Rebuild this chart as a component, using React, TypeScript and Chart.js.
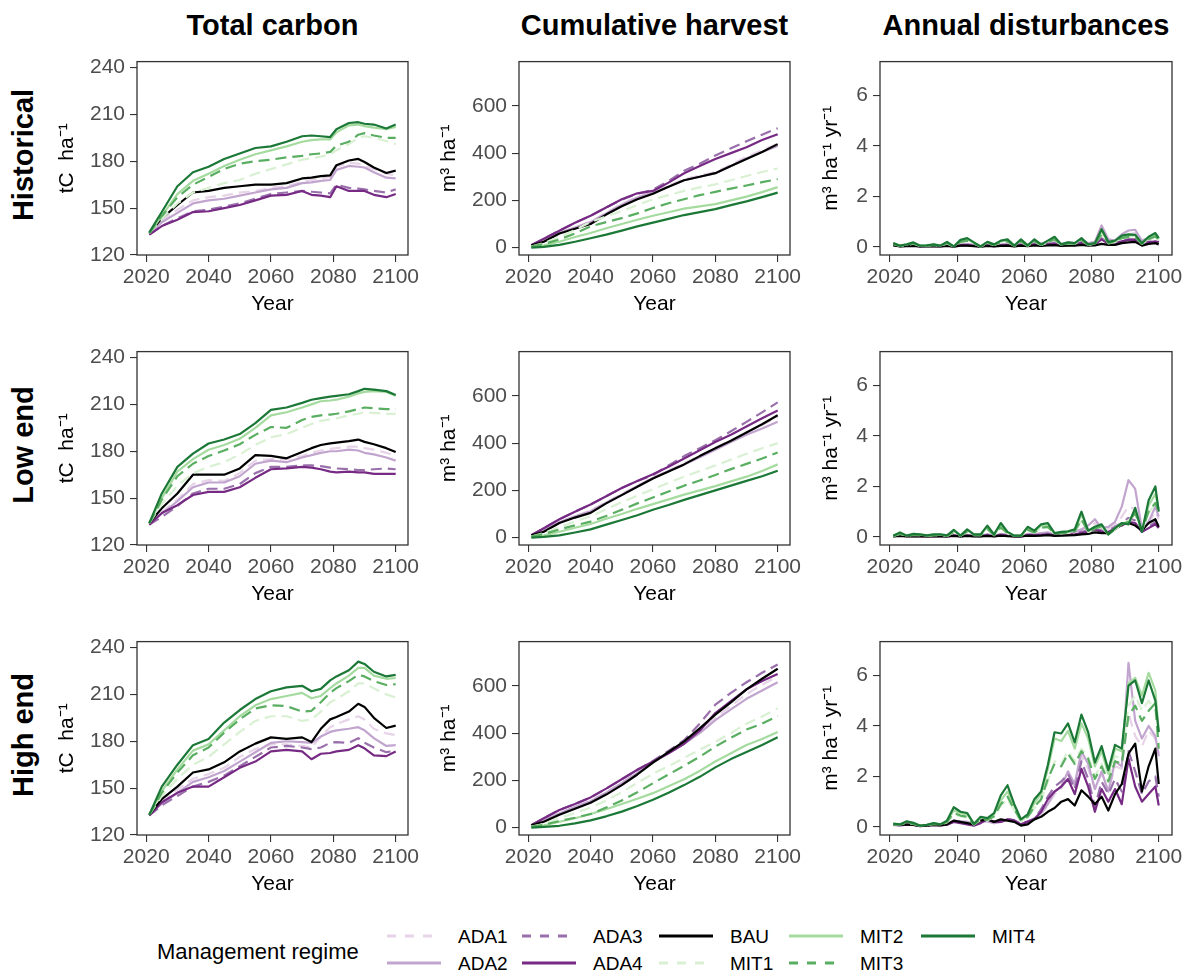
import React, { useEffect, useRef } from "react";
import { Chart, registerables } from "chart.js";

Chart.register(...registerables);

const FONT = "'Liberation Sans', Arial, Helvetica, sans-serif";

// ---------------- series definitions ----------------
const REGIMES = ["ADA1", "ADA2", "ADA3", "ADA4", "BAU", "MIT1", "MIT2", "MIT3", "MIT4"];
const COLORS = ["#E7D4E8", "#C2A5CF", "#9970AB", "#762A83", "#000000", "#D9F0D3", "#A6DBA0", "#5AAE61", "#1B7837"];
const DASHED = [true, false, true, false, false, true, false, true, false];

// ---------------- axis ticks / labels ----------------
const YEAR_TICKS = [2020, 2040, 2060, 2080, 2100];
const CARBON_TICKS = [120, 150, 180, 210, 240];
const HARVEST_TICKS = [0, 200, 400, 600];
const DIST_TICKS = [0, 2, 4, 6];

const COLUMN_TITLES = ["Total carbon", "Cumulative harvest", "Annual disturbances"];
const ROW_TITLES = ["Historical", "Low end", "High end"];
const Y_TITLES = ["tC  ha\u207B\u00B9", "m\u00B3 ha\u207B\u00B9", "m\u00B3 ha\u207B\u00B9 yr\u207B\u00B9"];
const X_TITLE = "Year";
const LEGEND_TITLE = "Management regime";

// ---------------- x categories ----------------
const CARBON_YEARS = [2021, 2025, 2030, 2035, 2040, 2045, 2050, 2055, 2060, 2065, 2070, 2073, 2076, 2079, 2081, 2085, 2088, 2090, 2093, 2097, 2100];
const HARVEST_YEARS = [2021, 2025, 2030, 2035, 2040, 2045, 2050, 2055, 2060, 2065, 2070, 2075, 2080, 2085, 2090, 2095, 2100];
const DIST_YEARS = [
  2021, 2023, 2025, 2027, 2029, 2031, 2033, 2035, 2037, 2039,
  2041, 2043, 2045, 2047, 2049, 2051, 2053, 2055, 2057, 2059,
  2061, 2063, 2065, 2067, 2069, 2071, 2073, 2075, 2077, 2079,
  2081, 2083, 2085, 2087, 2089, 2091, 2093, 2095, 2097, 2099,
  2100,
];

// ---------------- Total carbon (tC/ha), rows in REGIMES order ----------------
const CARBON_HISTORICAL = [
  [133.5, 142, 149, 155, 157, 158, 160, 161, 163, 164, 167, 168, 169, 170, 176.5, 179, 178.5, 177, 175, 172, 171],
  [133.5, 141, 147, 153, 155, 156, 158, 160, 162, 163, 166, 166.5, 167.5, 168, 174.5, 177, 176.5, 176, 173, 169.5, 169],
  [133, 138.5, 143.5, 148, 149, 151, 153, 156, 159, 160, 161, 160.5, 160, 159.5, 165, 163, 162.5, 162, 161, 160, 162],
  [133, 138.5, 142.5, 147.5, 148, 150, 152, 155, 158, 158.5, 161, 158.5, 158, 157, 164, 161, 161, 161, 158.5, 157, 159],
  [134, 143.5, 152, 160, 161, 163, 164, 165, 165, 166, 169, 169.5, 170.5, 171, 177.5, 180.5, 181.5, 179.5, 176, 172.5, 174],
  [134, 143, 153, 160, 163, 166, 168, 172, 175, 178, 181, 182, 183, 184.5, 187, 191, 195, 196, 195, 193, 191],
  [134, 145, 159, 167.5, 172, 177, 181, 184.5, 187, 189.5, 192.5, 193.5, 194, 194, 198.5, 203, 203.5, 202.5, 201.5, 200.5, 202],
  [134, 145, 157, 165, 170, 175, 178.5, 180, 181, 182.5, 183.5, 184.5, 185, 186, 190, 192.5, 197, 198, 196.5, 195, 195],
  [134.5, 147.5, 164, 173, 176.5, 181.5, 185, 188.5, 189.5, 192.5, 196, 196.5, 196, 195.5, 200.5, 204.5, 205, 204, 203.5, 201, 203.5],
];
const CARBON_LOW = [
  [133.5, 141, 149, 159, 161.5, 161, 166, 174, 175, 175, 177, 179, 180.5, 181.5, 182, 183, 183, 182, 181, 179, 177],
  [133.5, 140, 148, 157, 160, 160, 164, 172, 174, 173, 176, 177.5, 179, 180, 180, 181, 180.5, 179, 178, 176, 174],
  [133, 138, 145, 153, 156, 156, 159, 166, 170, 170, 171, 171, 170.5, 169.5, 169, 168.5, 168, 168, 168.5, 169, 168.5],
  [133, 140.5, 145.5, 152, 154, 154, 157, 163, 168.5, 169, 170, 169.5, 168.5, 167, 166.5, 167, 166.5, 166.5, 165.5, 165.5, 165.5],
  [134, 143.5, 153, 165, 165, 165, 169, 177.5, 177, 175.5, 179.5, 182, 184, 185, 185.5, 186.5, 187.5, 186, 184.5, 182, 179.5],
  [134, 146, 158, 166, 170, 173, 178, 184, 189, 191, 195, 197.5, 199.5, 200.5, 201, 203, 204, 205, 204.5, 204, 204],
  [134, 150, 167, 175, 181, 184, 188, 195, 203, 205, 208, 210, 212, 212.5, 213, 215, 217, 218, 218.5, 218, 215.5],
  [134, 149, 164, 172, 177, 180.5, 184.5, 190.5, 195.5, 195, 200, 202, 203, 203.5, 204, 205.5, 207, 208, 207.5, 207, 207],
  [134, 153, 170, 178.5, 185, 187.5, 191, 198, 206.5, 208, 211, 213, 214, 215, 215.5, 216.5, 218.5, 220, 219.5, 218.5, 216],
];
const CARBON_HIGH = [
  [133, 141, 149, 156, 159, 163, 170, 175, 178, 178, 177, 176, 183, 189, 191, 194, 196, 194, 188, 185, 184],
  [133, 140, 147, 154, 157, 161, 167, 173, 179, 180, 179.5, 179, 183, 186, 187, 188, 189, 187, 182, 177, 177.5],
  [132.5, 139, 145, 151, 154, 158, 164, 170, 176, 177, 176, 175, 176, 179, 179.5, 179, 182, 179, 176, 173, 174],
  [132.5, 141, 147, 151, 151, 157, 163, 167, 173.5, 174.5, 173.5, 168.5, 172, 172.5, 173.5, 174.5, 177.5, 175.5, 171, 170.5, 173.5],
  [133, 143, 151, 160, 162, 166.5, 173.5, 178.5, 182.5, 181.5, 182.5, 179.5, 188, 194, 195.5, 199, 204, 202, 195, 188.5, 190],
  [133, 145, 156, 165, 170, 178, 186, 193, 196, 196, 193, 194, 199, 205, 207, 212, 217, 217, 214, 210, 208],
  [133, 148, 162, 174, 178, 187, 196, 203, 207, 209, 211, 207.5, 209, 214, 217, 222, 227, 227, 222, 220, 220.5],
  [133, 147, 160, 171, 176, 185.5, 194, 201, 203, 202.5, 199, 199.5, 205, 211, 214, 218.5, 222.5, 221.5, 218.5, 216, 216.5],
  [133, 151, 165, 177.5, 181.5, 192, 200, 207, 212, 214.5, 215.5, 212, 213.5, 219, 221.5, 225.5, 231, 229.5, 224.5, 221.5, 222.5],
];

// ---------------- Cumulative harvest (m3/ha) ----------------
const HARVEST_HISTORICAL = [
  [10, 30, 62, 85, 110, 148, 185, 215, 235, 262, 290, 305, 320, 350, 385, 412, 440],
  [10, 30, 62, 85, 108, 145, 182, 212, 232, 258, 285, 300, 315, 345, 378, 405, 430],
  [10, 38, 72, 105, 135, 170, 203, 228, 245, 282, 325, 355, 390, 420, 450, 478, 505],
  [10, 38, 72, 105, 135, 170, 205, 230, 240, 275, 315, 345, 375, 400, 425, 455, 480],
  [10, 25, 60, 80, 100, 140, 175, 205, 228, 258, 285, 300, 315, 345, 375, 405, 438],
  [5, 20, 45, 75, 108, 132, 155, 180, 205, 222, 240, 255, 268, 285, 303, 320, 335],
  [3, 10, 25, 45, 62, 82, 100, 118, 135, 150, 165, 175, 184, 200, 216, 235, 256],
  [5, 15, 35, 60, 90, 108, 125, 145, 168, 188, 205, 222, 236, 250, 263, 277, 290],
  [0, 3, 12, 25, 40, 55, 72, 90, 106, 122, 138, 150, 163, 180, 196, 214, 233],
];
const HARVEST_LOW = [
  [10, 30, 65, 90, 115, 150, 185, 220, 255, 285, 315, 345, 380, 412, 445, 478, 508],
  [10, 30, 65, 90, 112, 148, 182, 218, 252, 282, 310, 340, 372, 405, 435, 462, 490],
  [10, 40, 78, 110, 140, 175, 210, 240, 265, 305, 345, 378, 412, 450, 490, 530, 572],
  [10, 40, 78, 110, 140, 175, 210, 240, 268, 300, 335, 370, 405, 435, 470, 505, 538],
  [10, 25, 62, 85, 105, 145, 180, 215, 250, 280, 310, 345, 378, 410, 445, 480, 518],
  [5, 20, 45, 68, 90, 120, 150, 178, 205, 232, 258, 282, 305, 330, 355, 378, 400],
  [3, 10, 25, 42, 58, 80, 100, 122, 142, 162, 182, 200, 218, 238, 258, 282, 310],
  [5, 15, 35, 52, 68, 92, 118, 145, 170, 195, 220, 242, 265, 290, 312, 335, 360],
  [0, 3, 10, 22, 35, 55, 75, 95, 118, 138, 160, 180, 200, 220, 240, 260, 283],
];
const HARVEST_HIGH = [
  [10, 30, 60, 88, 115, 150, 190, 235, 278, 318, 360, 410, 465, 515, 565, 605, 640],
  [10, 30, 60, 88, 112, 148, 188, 232, 275, 315, 355, 400, 455, 500, 545, 580, 615],
  [10, 40, 75, 100, 128, 165, 205, 245, 282, 325, 370, 440, 520, 570, 615, 655, 690],
  [10, 40, 75, 100, 128, 165, 205, 245, 280, 315, 355, 410, 485, 535, 585, 620, 650],
  [10, 25, 55, 80, 105, 140, 180, 225, 275, 320, 365, 420, 478, 530, 585, 630, 672],
  [5, 15, 40, 62, 85, 115, 150, 190, 228, 260, 295, 330, 363, 400, 440, 470, 505],
  [3, 10, 25, 40, 58, 78, 100, 122, 146, 175, 205, 240, 280, 315, 350, 375, 405],
  [5, 12, 28, 42, 58, 85, 115, 150, 188, 225, 262, 300, 343, 380, 415, 440, 472],
  [0, 3, 8, 18, 31, 48, 68, 92, 118, 148, 180, 215, 255, 290, 320, 350, 382],
];

// ---------------- Annual disturbances (m3/ha/yr) ----------------
const DIST_HISTORICAL = [
  [0.10, 0.04, 0.06, 0.08, 0.03, 0.04, 0.06, 0.03, 0.08, 0.02, 0.09, 0.11, 0.07, 0.02, 0.07, 0.05, 0.09, 0.11, 0.05, 0.13, 0.07, 0.15, 0.10, 0.18, 0.22, 0.10, 0.15, 0.13, 0.26, 0.13, 0.18, 0.60, 0.25, 0.22, 0.42, 0.50, 0.55, 0.20, 0.30, 0.38, 0.30],
  [0.10, 0.04, 0.06, 0.08, 0.03, 0.04, 0.06, 0.03, 0.08, 0.02, 0.10, 0.12, 0.08, 0.02, 0.08, 0.05, 0.10, 0.12, 0.05, 0.15, 0.08, 0.18, 0.12, 0.20, 0.25, 0.12, 0.18, 0.15, 0.30, 0.15, 0.20, 0.85, 0.30, 0.25, 0.50, 0.65, 0.68, 0.25, 0.35, 0.45, 0.35],
  [0.08, 0.03, 0.05, 0.06, 0.02, 0.03, 0.05, 0.02, 0.06, 0.02, 0.07, 0.08, 0.05, 0.02, 0.05, 0.04, 0.07, 0.08, 0.04, 0.10, 0.05, 0.11, 0.08, 0.12, 0.15, 0.08, 0.10, 0.10, 0.18, 0.10, 0.12, 0.35, 0.15, 0.15, 0.25, 0.30, 0.30, 0.15, 0.20, 0.25, 0.20],
  [0.08, 0.03, 0.04, 0.05, 0.02, 0.03, 0.04, 0.02, 0.05, 0.02, 0.06, 0.07, 0.04, 0.02, 0.05, 0.03, 0.06, 0.07, 0.03, 0.08, 0.04, 0.10, 0.07, 0.10, 0.12, 0.07, 0.09, 0.08, 0.15, 0.09, 0.10, 0.30, 0.12, 0.13, 0.22, 0.28, 0.28, 0.12, 0.18, 0.22, 0.18],
  [0.06, 0.02, 0.03, 0.04, 0.02, 0.02, 0.03, 0.02, 0.04, 0.01, 0.05, 0.05, 0.03, 0.01, 0.04, 0.02, 0.04, 0.05, 0.02, 0.05, 0.03, 0.06, 0.04, 0.06, 0.07, 0.04, 0.05, 0.05, 0.08, 0.05, 0.06, 0.12, 0.08, 0.08, 0.15, 0.18, 0.20, 0.05, 0.12, 0.15, 0.10],
  [0.12, 0.04, 0.08, 0.13, 0.04, 0.05, 0.08, 0.04, 0.14, 0.02, 0.19, 0.24, 0.13, 0.02, 0.14, 0.08, 0.17, 0.20, 0.04, 0.20, 0.04, 0.20, 0.08, 0.17, 0.28, 0.08, 0.13, 0.12, 0.26, 0.08, 0.12, 0.48, 0.14, 0.19, 0.34, 0.42, 0.40, 0.12, 0.30, 0.40, 0.27],
  [0.14, 0.05, 0.09, 0.16, 0.05, 0.05, 0.09, 0.05, 0.18, 0.02, 0.25, 0.30, 0.16, 0.02, 0.18, 0.09, 0.22, 0.27, 0.05, 0.26, 0.05, 0.27, 0.09, 0.22, 0.36, 0.09, 0.16, 0.14, 0.32, 0.09, 0.14, 0.62, 0.18, 0.22, 0.42, 0.48, 0.46, 0.14, 0.36, 0.50, 0.32],
  [0.12, 0.04, 0.08, 0.14, 0.04, 0.05, 0.08, 0.04, 0.15, 0.02, 0.20, 0.25, 0.14, 0.02, 0.15, 0.08, 0.18, 0.22, 0.04, 0.22, 0.04, 0.22, 0.08, 0.18, 0.30, 0.08, 0.14, 0.12, 0.28, 0.08, 0.12, 0.50, 0.15, 0.20, 0.35, 0.40, 0.38, 0.12, 0.30, 0.42, 0.28],
  [0.15, 0.05, 0.10, 0.18, 0.05, 0.06, 0.10, 0.05, 0.20, 0.02, 0.28, 0.35, 0.18, 0.02, 0.20, 0.10, 0.25, 0.30, 0.05, 0.30, 0.06, 0.30, 0.10, 0.25, 0.40, 0.10, 0.18, 0.15, 0.35, 0.10, 0.15, 0.70, 0.20, 0.25, 0.45, 0.50, 0.48, 0.15, 0.40, 0.55, 0.35],
];
const DIST_LOW = [
  [0.03, 0.06, 0.03, 0.05, 0.04, 0.03, 0.04, 0.04, 0.03, 0.08, 0.03, 0.08, 0.04, 0.04, 0.10, 0.04, 0.11, 0.07, 0.03, 0.03, 0.11, 0.09, 0.14, 0.16, 0.09, 0.11, 0.14, 0.18, 0.28, 0.35, 0.55, 0.30, 0.32, 0.50, 0.80, 1.20, 1.10, 0.30, 0.55, 1.00, 0.70],
  [0.03, 0.06, 0.03, 0.05, 0.04, 0.03, 0.04, 0.04, 0.03, 0.08, 0.03, 0.08, 0.04, 0.04, 0.10, 0.04, 0.12, 0.08, 0.03, 0.03, 0.12, 0.10, 0.15, 0.18, 0.10, 0.12, 0.15, 0.20, 0.30, 0.45, 0.70, 0.35, 0.40, 0.60, 1.20, 2.25, 1.90, 0.30, 0.60, 1.20, 0.80],
  [0.03, 0.05, 0.03, 0.04, 0.03, 0.03, 0.03, 0.03, 0.03, 0.06, 0.03, 0.06, 0.03, 0.03, 0.08, 0.03, 0.09, 0.06, 0.03, 0.03, 0.09, 0.07, 0.10, 0.12, 0.07, 0.08, 0.10, 0.12, 0.20, 0.25, 0.35, 0.25, 0.25, 0.40, 0.55, 0.75, 0.65, 0.20, 0.40, 0.60, 0.45],
  [0.03, 0.05, 0.03, 0.04, 0.03, 0.02, 0.03, 0.03, 0.02, 0.05, 0.02, 0.05, 0.03, 0.03, 0.06, 0.03, 0.07, 0.05, 0.02, 0.02, 0.07, 0.06, 0.08, 0.10, 0.06, 0.07, 0.08, 0.10, 0.15, 0.20, 0.30, 0.20, 0.20, 0.35, 0.45, 0.60, 0.55, 0.20, 0.35, 0.50, 0.35],
  [0.02, 0.04, 0.02, 0.03, 0.02, 0.02, 0.02, 0.02, 0.02, 0.04, 0.02, 0.04, 0.02, 0.02, 0.04, 0.02, 0.05, 0.03, 0.02, 0.02, 0.05, 0.04, 0.05, 0.07, 0.04, 0.05, 0.06, 0.07, 0.10, 0.12, 0.18, 0.15, 0.15, 0.30, 0.50, 0.55, 0.45, 0.25, 0.55, 0.70, 0.40],
  [0.04, 0.12, 0.04, 0.08, 0.07, 0.04, 0.07, 0.07, 0.04, 0.18, 0.04, 0.20, 0.07, 0.07, 0.30, 0.07, 0.35, 0.14, 0.04, 0.04, 0.26, 0.17, 0.34, 0.38, 0.11, 0.14, 0.16, 0.21, 0.65, 0.20, 0.30, 0.40, 0.10, 0.30, 0.50, 0.65, 0.90, 0.25, 0.95, 1.30, 1.05],
  [0.05, 0.16, 0.05, 0.11, 0.09, 0.05, 0.09, 0.09, 0.05, 0.25, 0.05, 0.27, 0.09, 0.09, 0.40, 0.09, 0.48, 0.18, 0.05, 0.05, 0.35, 0.22, 0.45, 0.50, 0.14, 0.18, 0.20, 0.27, 0.90, 0.23, 0.38, 0.48, 0.10, 0.35, 0.55, 0.55, 1.05, 0.25, 1.25, 1.70, 1.10],
  [0.04, 0.13, 0.04, 0.09, 0.07, 0.04, 0.07, 0.07, 0.04, 0.20, 0.04, 0.22, 0.07, 0.07, 0.32, 0.07, 0.38, 0.15, 0.04, 0.04, 0.28, 0.18, 0.36, 0.40, 0.12, 0.15, 0.17, 0.22, 0.70, 0.20, 0.32, 0.42, 0.10, 0.30, 0.50, 0.60, 0.95, 0.25, 1.00, 1.35, 1.00],
  [0.05, 0.18, 0.05, 0.12, 0.10, 0.06, 0.10, 0.10, 0.06, 0.28, 0.05, 0.30, 0.10, 0.10, 0.45, 0.10, 0.55, 0.20, 0.05, 0.05, 0.40, 0.25, 0.50, 0.55, 0.15, 0.20, 0.22, 0.30, 1.00, 0.25, 0.40, 0.50, 0.10, 0.35, 0.55, 0.50, 1.15, 0.20, 1.45, 2.00, 1.00],
];
const DIST_HIGH = [
  [0.10, 0.08, 0.12, 0.10, 0.04, 0.06, 0.10, 0.08, 0.12, 0.25, 0.20, 0.20, 0.10, 0.22, 0.20, 0.15, 0.20, 0.30, 0.25, 0.10, 0.20, 0.35, 0.50, 0.85, 1.30, 1.50, 2.00, 1.60, 2.80, 2.30, 1.50, 2.10, 1.40, 2.40, 2.30, 4.50, 3.60, 3.20, 3.80, 3.50, 2.90],
  [0.10, 0.08, 0.12, 0.10, 0.04, 0.06, 0.10, 0.08, 0.12, 0.25, 0.22, 0.20, 0.10, 0.25, 0.22, 0.15, 0.20, 0.30, 0.25, 0.10, 0.20, 0.35, 0.55, 0.90, 1.40, 1.60, 2.20, 1.70, 3.00, 2.50, 1.50, 2.20, 1.40, 2.60, 2.40, 6.50, 4.20, 3.50, 4.00, 3.60, 2.80],
  [0.09, 0.07, 0.10, 0.09, 0.03, 0.05, 0.08, 0.07, 0.10, 0.22, 0.18, 0.12, 0.06, 0.18, 0.30, 0.20, 0.22, 0.32, 0.27, 0.12, 0.22, 0.32, 0.70, 1.20, 1.60, 1.80, 2.10, 1.50, 2.60, 1.90, 0.80, 1.80, 1.30, 1.90, 1.40, 3.00, 2.20, 1.30, 1.80, 2.00, 1.20],
  [0.08, 0.06, 0.09, 0.08, 0.03, 0.05, 0.08, 0.06, 0.09, 0.20, 0.15, 0.10, 0.05, 0.15, 0.30, 0.20, 0.20, 0.30, 0.25, 0.10, 0.20, 0.30, 0.60, 1.10, 1.40, 1.60, 1.90, 1.30, 2.30, 1.60, 0.60, 1.50, 1.00, 1.50, 0.90, 2.70, 1.60, 1.00, 1.30, 1.60, 0.85],
  [0.10, 0.08, 0.10, 0.08, 0.04, 0.05, 0.08, 0.06, 0.10, 0.25, 0.20, 0.15, 0.10, 0.25, 0.30, 0.20, 0.30, 0.25, 0.20, 0.05, 0.10, 0.30, 0.40, 0.60, 0.75, 1.00, 1.10, 0.85, 1.45, 1.20, 0.90, 1.20, 0.65, 1.30, 1.70, 2.90, 3.30, 1.40, 2.40, 3.10, 1.70],
  [0.10, 0.10, 0.14, 0.12, 0.05, 0.07, 0.12, 0.10, 0.18, 0.50, 0.42, 0.38, 0.10, 0.28, 0.25, 0.40, 0.85, 1.10, 0.65, 0.22, 0.38, 0.75, 1.05, 1.80, 2.60, 2.50, 3.00, 2.60, 3.10, 2.80, 2.00, 2.50, 1.90, 2.80, 2.70, 4.80, 5.20, 4.60, 5.00, 4.60, 3.30],
  [0.12, 0.10, 0.20, 0.15, 0.05, 0.08, 0.14, 0.10, 0.22, 0.65, 0.55, 0.50, 0.12, 0.38, 0.32, 0.50, 1.05, 1.40, 0.85, 0.28, 0.45, 0.95, 1.30, 2.30, 3.50, 3.40, 3.80, 3.10, 4.10, 3.50, 2.40, 3.00, 2.10, 3.10, 3.00, 5.70, 5.90, 5.20, 6.10, 5.40, 3.80],
  [0.10, 0.10, 0.15, 0.12, 0.05, 0.07, 0.12, 0.10, 0.20, 0.55, 0.45, 0.40, 0.10, 0.30, 0.28, 0.42, 0.90, 1.20, 0.70, 0.25, 0.40, 0.80, 1.10, 1.90, 2.50, 2.40, 2.90, 2.50, 3.00, 2.70, 1.90, 2.40, 1.80, 2.60, 2.50, 4.40, 4.80, 4.20, 4.60, 4.90, 3.10],
  [0.13, 0.10, 0.22, 0.16, 0.05, 0.08, 0.15, 0.10, 0.25, 0.78, 0.60, 0.55, 0.12, 0.40, 0.35, 0.55, 1.25, 1.65, 0.90, 0.30, 0.50, 1.10, 1.40, 2.45, 3.75, 3.70, 4.10, 3.35, 4.45, 3.75, 2.55, 3.20, 2.25, 3.25, 3.10, 5.60, 5.80, 4.90, 5.80, 5.00, 3.75],
];

const PANEL_VALUES = [
  [CARBON_HISTORICAL, HARVEST_HISTORICAL, DIST_HISTORICAL],
  [CARBON_LOW, HARVEST_LOW, DIST_LOW],
  [CARBON_HIGH, HARVEST_HIGH, DIST_HIGH],
];
const COLUMN_YEARS = [CARBON_YEARS, HARVEST_YEARS, DIST_YEARS];
const COLUMN_TICKS = [CARBON_TICKS, HARVEST_TICKS, DIST_TICKS];
const COLUMN_RANGE = [
  [120, 243.8],
  [-31, 787],
  [-0.32, 7.34],
];
const X_RANGE = [2017.05, 2103.95];

// ---------------- layout (pixels) ----------------
const PLOT_L = [137, 519, 880];
const PLOT_W = [271, 271, 292];
const PLOT_T = [54, 344, 634];
const PLOT_H = 201;
const Y_AXIS_W = [82, 82, 61];
const X_AXIS_H = 62;
const PAD_T = 10;
const PAD_R = 16;

const boxPlugin = {
  id: "panelBox",
  afterDraw(chart: any) {
    const { ctx, chartArea: a } = chart;
    ctx.save();
    ctx.strokeStyle = "#333333";
    ctx.lineWidth = 1.3;
    ctx.strokeRect(a.left, a.top, a.right - a.left, a.bottom - a.top);
    ctx.restore();
  },
};

function Panel({ row, col }: { row: number; col: number }) {
  const ref = useRef<HTMLCanvasElement>(null);
  const width = Y_AXIS_W[col] + PLOT_W[col] + PAD_R;
  const height = PAD_T + PLOT_H + X_AXIS_H;
  useEffect(() => {
    const years = COLUMN_YEARS[col];
    const values = PANEL_VALUES[row][col];
    const yTicks = COLUMN_TICKS[col];
    const datasets = REGIMES.map((name, i) => ({
      label: name,
      data: years.map((x, j) => ({ x, y: values[i][j] })),
      borderColor: COLORS[i],
      backgroundColor: COLORS[i],
      borderWidth: 2.2,
      borderDash: DASHED[i] ? [11, 6] : [],
      borderCapStyle: "butt",
      borderJoinStyle: "round",
      pointRadius: 0,
      pointHoverRadius: 0,
      fill: false,
      tension: 0,
      order: REGIMES.length - 1 - i,
    }));
    const tickFont = { family: FONT, size: 21 };
    const chart = new Chart(ref.current as HTMLCanvasElement, {
      type: "line",
      data: { datasets } as any,
      plugins: [boxPlugin],
      options: {
        animation: false,
        responsive: false,
        devicePixelRatio: 1,
        events: [],
        layout: { padding: { top: PAD_T, right: PAD_R, left: 0, bottom: 0 } },
        plugins: { legend: { display: false }, tooltip: { enabled: false } },
        scales: {
          x: {
            type: "linear",
            min: X_RANGE[0],
            max: X_RANGE[1],
            afterBuildTicks: (axis: any) => {
              axis.ticks = YEAR_TICKS.map((v) => ({ value: v }));
            },
            afterFit: (axis: any) => {
              axis.height = X_AXIS_H;
            },
            ticks: {
              font: tickFont,
              color: "#4D4D4D",
              padding: 3,
              maxRotation: 0,
              autoSkip: false,
              callback: (v: any) => String(v),
            },
            grid: { display: true, drawOnChartArea: false, drawTicks: true, tickLength: 7, color: "#333333", lineWidth: 1.1 },
            border: { display: false },
            title: { display: true, text: X_TITLE, color: "#000000", font: { family: FONT, size: 21 }, padding: { top: 0, bottom: 0 } },
          },
          y: {
            type: "linear",
            min: COLUMN_RANGE[col][0],
            max: COLUMN_RANGE[col][1],
            afterBuildTicks: (axis: any) => {
              axis.ticks = yTicks.map((v) => ({ value: v }));
            },
            afterFit: (axis: any) => {
              axis.width = Y_AXIS_W[col];
            },
            ticks: {
              font: tickFont,
              color: "#4D4D4D",
              padding: 5,
              autoSkip: false,
              callback: (v: any) => String(v),
            },
            grid: { display: true, drawOnChartArea: false, drawTicks: true, tickLength: 7, color: "#333333", lineWidth: 1.1 },
            border: { display: false },
            title: { display: true, text: Y_TITLES[col], color: "#000000", font: { family: FONT, size: 21 }, padding: { top: 0, bottom: 0 } },
          },
        },
      } as any,
    });
    return () => chart.destroy();
  }, [row, col]);
  return (
    <canvas
      ref={ref}
      width={width}
      height={height}
      style={{ position: "absolute", left: PLOT_L[col] - Y_AXIS_W[col], top: PLOT_T[row] - PAD_T, width, height }}
    />
  );
}

// ---------------- legend layout ----------------
const LEGEND_COL_X = [387, 522, 659, 789, 921];
const LEGEND_ROW_Y = [936, 963];
const LEGEND_KEY_W = 54;
const LEGEND_LABEL_GAP = 17;

function LegendKey({ index, x, y }: { index: number; x: number; y: number }) {
  return (
    <div style={{ position: "absolute", left: x, top: y - 4, height: 8 }}>
      <svg width={LEGEND_KEY_W} height={8} style={{ position: "absolute", left: 0, top: 0 }}>
        <line
          x1={0}
          y1={4}
          x2={LEGEND_KEY_W}
          y2={4}
          stroke={COLORS[index]}
          strokeWidth={3}
          strokeDasharray={DASHED[index] ? "9 9" : undefined}
        />
      </svg>
      <div
        style={{
          position: "absolute",
          left: LEGEND_KEY_W + LEGEND_LABEL_GAP,
          top: 4,
          transform: "translateY(-50%)",
          fontSize: 19,
          lineHeight: 1,
          whiteSpace: "nowrap",
          color: "#000",
        }}
      >
        {REGIMES[index]}
      </div>
    </div>
  );
}

export default function App() {
  const textBase: React.CSSProperties = {
    position: "absolute",
    whiteSpace: "nowrap",
    lineHeight: 1,
    color: "#000",
    fontFamily: FONT,
  };
  return (
    <div style={{ position: "absolute", left: 0, top: 0, width: 1191, height: 970, background: "#fff", fontFamily: FONT, overflow: "hidden" }}>
      {COLUMN_TITLES.map((t, c) => (
        <div
          key={t}
          style={{ ...textBase, left: PLOT_L[c] + PLOT_W[c] / 2, top: 25, transform: "translate(-50%, -50%)", fontSize: 29, fontWeight: 700 }}
        >
          {t}
        </div>
      ))}
      {ROW_TITLES.map((t, r) => (
        <div
          key={t}
          style={{ ...textBase, left: 23, top: PLOT_T[r] + PLOT_H / 2, transform: "translate(-50%, -50%) rotate(-90deg)", fontSize: 29, fontWeight: 700 }}
        >
          {t}
        </div>
      ))}
      {[0, 1, 2].map((r) => [0, 1, 2].map((c) => <Panel key={`${r}-${c}`} row={r} col={c} />))}
      <div style={{ ...textBase, left: 157, top: 952, transform: "translateY(-50%)", fontSize: 22 }}>{LEGEND_TITLE}</div>
      {REGIMES.map((_, i) => (
        <LegendKey key={i} index={i} x={LEGEND_COL_X[Math.floor(i / 2)]} y={LEGEND_ROW_Y[i % 2]} />
      ))}
    </div>
  );
}
